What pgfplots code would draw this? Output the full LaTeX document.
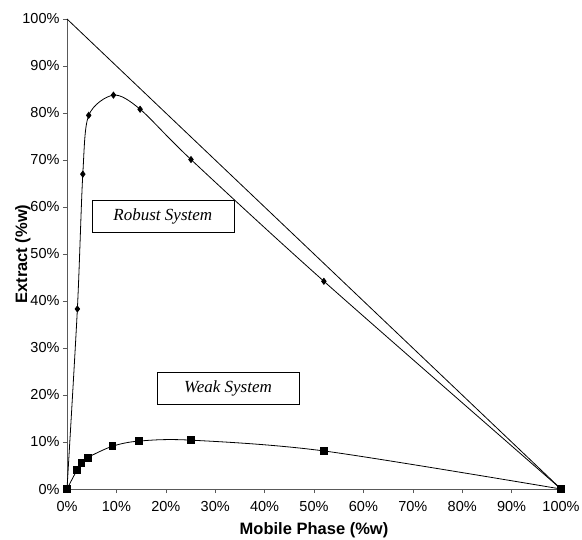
\documentclass[border=0pt]{standalone}
\usepackage{pgfplots}
\pgfplotsset{compat=1.18}
\usepackage{fontspec}
\setmainfont{Liberation Sans}
\newfontfamily\timesfont{Liberation Serif}
\begin{document}
\begin{tikzpicture}
\begin{axis}[
  scale only axis,
  width=494pt, height=470pt,
  xmin=0, xmax=100, ymin=0, ymax=100,
  axis x line*=bottom, axis y line*=left,
  axis line style={gray!70!black, line width=0.6pt},
  xtick={0,10,...,100}, ytick={0,10,...,100},
  tick align=outside, major tick length=4pt,
  tick style={gray!70!black, line width=0.6pt},
  xticklabel={\pgfmathprintnumber{\tick}\%},
  yticklabel={\pgfmathprintnumber{\tick}\%},
  /pgf/number format/assume math mode=true,
  ticklabel style={font=\fontsize{14.5}{16}\selectfont},
  xticklabel style={yshift=-5pt},
  xlabel={\textbf{Mobile Phase (\%w)}},
  ylabel={\textbf{Extract (\%w)}},
  label style={font=\fontsize{16.5}{18}\selectfont},
  xlabel style={yshift=-4pt},
  ylabel style={yshift=-15pt},
  clip=false,
]
% diagonal
\addplot[black, line width=0.8pt, no marks] coordinates {(0,100) (100,0)};
% robust system
\addplot[black, line width=0.8pt, smooth, tension=0.5, mark=diamond*, mark size=3pt, mark options={fill=black}] coordinates {
  (0,0) (2.1,38.3) (3.2,67.0) (4.4,79.5) (9.4,83.8) (14.8,80.8) (25.1,70.1) (52.0,44.2) (100,0)
};
% weak system
\addplot[black, line width=0.8pt, smooth, tension=0.5, mark=square*, mark size=3.4pt, mark options={fill=black}] coordinates {
  (0,0) (2.0,4.0) (2.9,5.5) (4.2,6.7) (9.2,9.1) (14.6,10.2) (25.0,10.4) (52.0,8.1) (100,0)
};
\node[draw=black, line width=0.6pt, fill=white, minimum width=142pt, minimum height=32pt, inner sep=0pt, font=\timesfont\itshape\fontsize{17}{19}\selectfont] at (axis cs:19.4,58.0) {Robust System};
\node[draw=black, line width=0.6pt, fill=white, minimum width=142pt, minimum height=32pt, inner sep=0pt, font=\timesfont\itshape\fontsize{17}{19}\selectfont] at (axis cs:32.6,21.5) {Weak System};
\end{axis}
\pgfresetboundingbox
\useasboundingbox ([shift={(-67pt,-50pt)}]current axis.south west) rectangle ([shift={(21pt,19pt)}]current axis.north east);
\end{tikzpicture}
\end{document}
